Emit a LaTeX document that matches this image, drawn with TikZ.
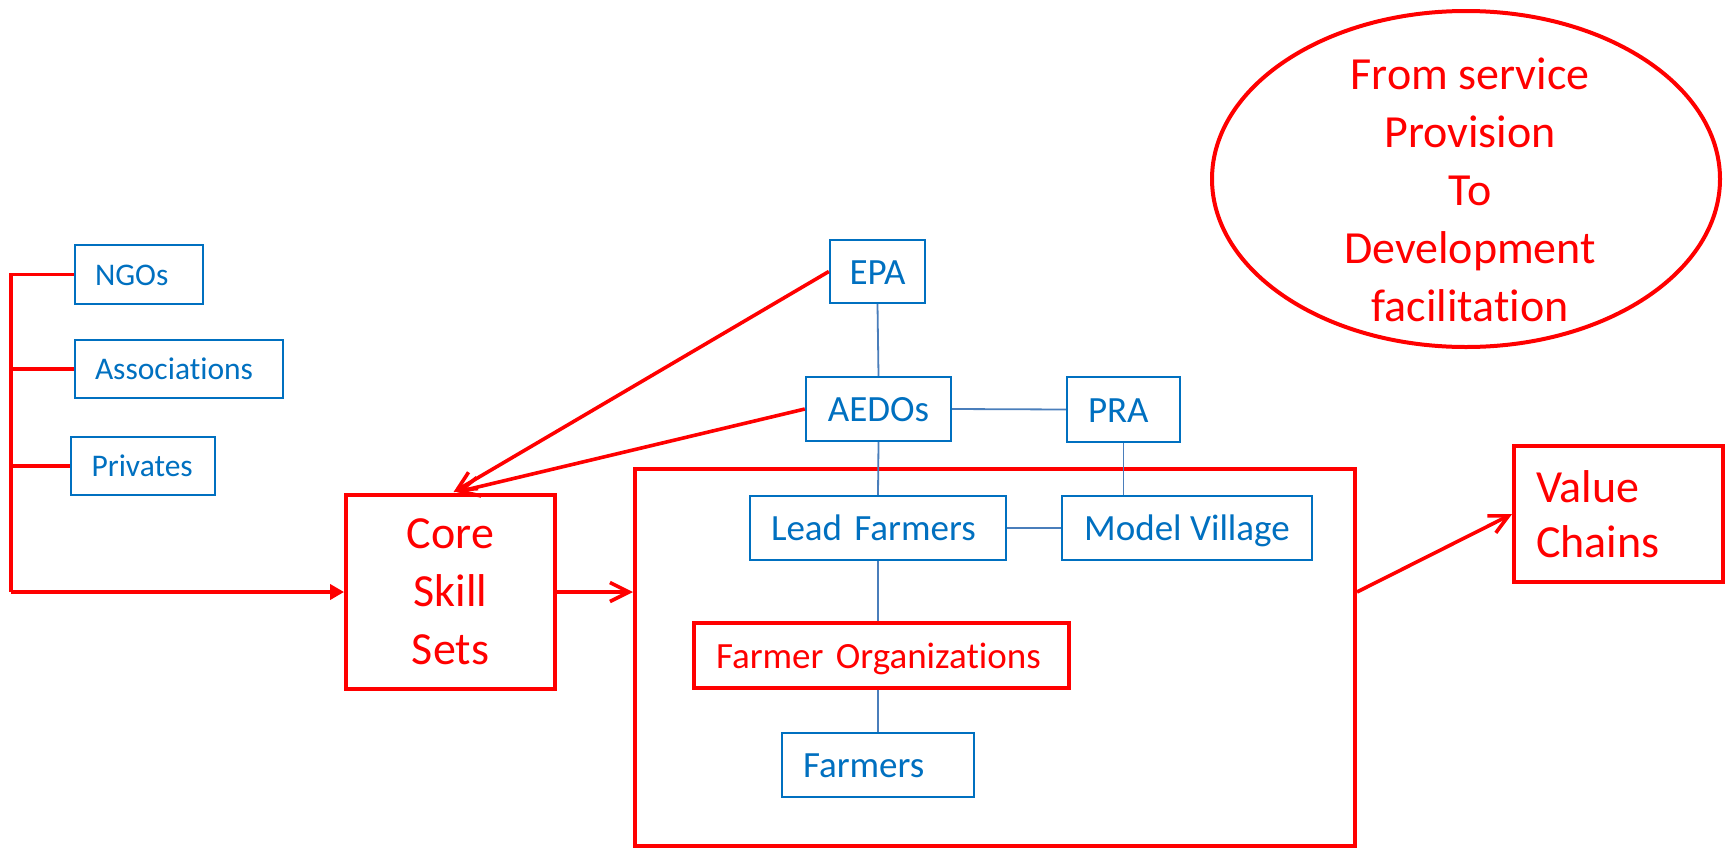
\documentclass[tikz,border=0pt]{standalone}
\usepackage{fontspec}
\setmainfont{Carlito}[Ligatures={NoCommon,NoRequired,NoContextual},Contextuals={NoAlternate}]
\usetikzlibrary{arrows.meta,shapes.geometric,calc}
\definecolor{rd}{HTML}{FF0000}
\definecolor{bl}{HTML}{0070C0}
\definecolor{cn}{HTML}{4A7EBB}
\begin{document}
\begin{tikzpicture}[x=1pt,y=-1pt,
  bluebox/.style={draw=bl, line width=2.3pt, fill=white, text=bl, inner sep=0pt, text height=25pt, text depth=0pt, font=\fontsize{37}{44}\selectfont},
  smallbox/.style={bluebox, text height=21.4pt, font=\fontsize{31.5}{38}\selectfont},
  redbox/.style={draw=rd, line width=3.8pt, fill=white, text=rd, inner sep=0pt},
  redline/.style={draw=rd, line width=3.6pt, line join=miter},
  conn/.style={draw=cn, line width=1.8pt},
  barb/.style={-{Straight Barb[length=19pt,width=19pt]}},
  bigfont/.style={font=\fontsize{46}{58}\selectfont}
  ]
\fill[white] (0,0) rectangle (1730,849);
\useasboundingbox (0,0) rectangle (1730,849);

% big frame and ellipse
\node[draw=rd, line width=4pt, minimum width=720pt, minimum height=377pt, inner sep=0pt] (big) at (995,657.5) {};
\node[ellipse, draw=rd, line width=4pt, minimum width=508pt, minimum height=336pt, inner sep=0pt] (goal) at (1466,179) {};
\node[text=rd, align=center, bigfont] (goaltext) at (1470,190) {From service\\Provision\\To\\Development\\facilitation};

% left column
\node[smallbox, text width=128pt, align=left, minimum height=59pt] (ngo) at (139,274.5) {\hspace*{20pt}NGOs};
\node[smallbox, text width=208pt, align=left, minimum height=58pt] (assoc) at (179,369) {\hspace*{20pt}Associations};
\node[smallbox, text width=144pt, align=left, minimum height=58pt] (priv) at (143,466) {\hspace*{20.5pt}Privates};

% hierarchy
\node[bluebox, minimum width=95pt, minimum height=63pt] (epa) at (877.5,271.5) {EPA};
\node[bluebox, minimum width=145pt, minimum height=64pt] (aedo) at (878.5,409) {AEDOs};
\node[bluebox, text width=113pt, align=left, minimum height=65pt] (pra) at (1123.5,409.5) {\hspace*{21pt}PRA};
\node[bluebox, text width=256pt, align=left, minimum height=64pt] (lead) at (878,528) {\hspace*{21pt}Lead Farmers};
\node[bluebox, minimum width=250pt, minimum height=64pt] (model) at (1187,528) {Model Village};
\node[redbox, line width=3.3pt, text width=375pt, align=left, minimum height=65pt, text height=25pt, text depth=0pt, font=\fontsize{37}{44}\selectfont] (fo) at (881.5,655.5) {\hspace*{22pt}Farmer Organizations};
\node[bluebox, text width=192pt, align=left, minimum height=64pt] (farmers) at (878,765) {\hspace*{21pt}Farmers};

% red boxes
\node[redbox, minimum width=209pt, minimum height=194pt, align=center, bigfont] (core) at (450.5,592) {Core\\Skill\\Sets};
\node[redbox, text width=209pt, align=left, minimum height=136pt, font=\fontsize{46}{55}\selectfont] (vc) at (1618.5,514) {\hspace*{22pt}Value\\\hspace*{22pt}Chains};

% red bus on the left
\coordinate (bustop) at (11,274.5);
\coordinate (busbot) at (11,592);
\draw[redline] (ngo.west) -- (bustop) -- (busbot);
\draw[redline] (assoc.west) -- (assoc.west -| bustop);
\draw[redline] (priv.west) -- (priv.west -| bustop);
\draw[redline, -{Triangle[length=14pt,width=15pt]}] (busbot) -- (core.west);

% red arrows
\draw[redline, barb] (epa.west) -- ($(core.north)+(3,-1)$);
\draw[redline, barb] (aedo.west) -- ($(core.north)+(6,-1)$);
\draw[redline, barb] (core.east) -- (core.east -| big.west);
\draw[redline, barb] (core.east -| big.east) -- (vc.west);

% blue connectors
\draw[conn] (epa.south) -- (aedo.north);
\draw[conn] (aedo.east) -- (pra.west);
\draw[conn] (aedo.south) -- (lead.north);
\draw[conn] (pra.south) -- (pra.south |- model.north);
\draw[conn] (lead.east) -- (model.west);
\draw[conn] (lead.south) -- (lead.south |- fo.north);
\draw[conn] (lead.south |- fo.south) -- (farmers.north);
\end{tikzpicture}
\end{document}
